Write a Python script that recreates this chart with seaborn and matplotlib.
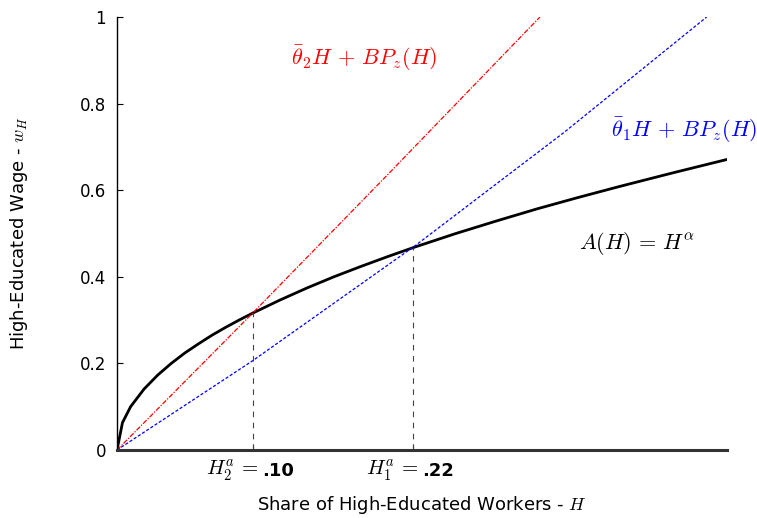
import numpy as np
import pandas as pd
import seaborn as sns
import matplotlib.pyplot as plt

# values
h_curve = [0.0, 0.004, 0.01, 0.02, 0.03, 0.04, 0.05, 0.06, 0.07, 0.08, 0.09, 0.10, 0.12,
           0.14, 0.16, 0.18, 0.20, 0.22, 0.25, 0.28, 0.31, 0.34, 0.37, 0.41, 0.45]
w_curve = [0.0, 0.063, 0.100, 0.141, 0.173, 0.200, 0.224, 0.245, 0.265, 0.283, 0.300,
           0.316, 0.346, 0.374, 0.400, 0.424, 0.447, 0.469, 0.500, 0.529, 0.557, 0.583,
           0.608, 0.640, 0.671]

h_red = [0.0, 0.10, 0.20, 0.312]
w_red = [0.0, 0.316, 0.637, 1.0]

h_blue = [0.0, 0.10, 0.22, 0.33, 0.435]
w_blue = [0.0, 0.206, 0.472, 0.734, 1.0]

cut_h = [0.10, 0.218]
cut_w = [0.316, 0.467]
cut_names = [r"$H_2^a\,=$", r"$H_1^a\,=$"]
cut_values = [".10", ".22"]

y_ticks = [0, 0.2, 0.4, 0.6, 0.8, 1.0]
y_labels = ["0", "0.2", "0.4", "0.6", "0.8", "1"]

sns.set_theme(style="ticks")
plt.rcParams["font.family"] = ["DejaVu Sans"]
plt.rcParams["mathtext.fontset"] = "cm"
plt.rcParams["text.color"] = "black"
plt.rcParams["axes.labelcolor"] = "black"

fig = plt.figure(figsize=(7.57, 5.18), dpi=100)
ax = fig.add_axes([0.1546, 0.1313, 0.8058, 0.8359])

sns.lineplot(x=h_curve, y=w_curve, ax=ax, color="black", linewidth=2.0, sort=False)
sns.lineplot(x=h_red, y=w_red, ax=ax, color="red", linewidth=0.9, sort=False,
             linestyle=(0, (4, 1.2, 1, 1.2)))
sns.lineplot(x=h_blue, y=w_blue, ax=ax, color="blue", linewidth=0.9, sort=False,
             linestyle=(0, (2.5, 1.5)))

for h, w in zip(cut_h, cut_w):
    ax.plot([h, h], [0, w], color="#444444", linewidth=0.8, linestyle=(0, (5, 5)))

ax.set_xlim(0, 0.45)
ax.set_ylim(0, 1)
ax.set_yticks(y_ticks)
ax.set_yticklabels(y_labels, fontsize=12, color="black")
ax.set_xticks(cut_h)
ax.set_xticklabels([])
ax.tick_params(axis="both", direction="in", length=4, width=0.8, colors="black")
ax.tick_params(axis="y", pad=8)

for h, name, val in zip(cut_h, cut_names, cut_values):
    ax.annotate(name, xy=(h, 0), xycoords=("data", "axes fraction"),
                xytext=(4, -15), textcoords="offset points", fontsize=15,
                ha="right", va="center", color="black")
    ax.annotate(val, xy=(h, 0), xycoords=("data", "axes fraction"),
                xytext=(7, -15), textcoords="offset points", fontsize=13,
                fontweight="bold", ha="left", va="center", color="black")

sns.despine(ax=ax)
ax.spines["left"].set_color("black")
ax.spines["left"].set_linewidth(1.0)
ax.spines["bottom"].set_color("#333333")
ax.spines["bottom"].set_linewidth(2.2)

ax.set_xlabel("Share of High-Educated Workers - $H$", fontsize=13, labelpad=28,
              color="black")
ax.set_ylabel("High-Educated Wage - $w_H$", fontsize=13, labelpad=36, color="black")

ax.text(0.182, 0.905, r"$\bar{\theta}_2 H \,+\, BP_z(H)$", color="red", fontsize=16,
        ha="center", va="center")
ax.text(0.418, 0.738, r"$\bar{\theta}_1 H \,+\, BP_z(H)$", color="blue", fontsize=16,
        ha="center", va="center")
ax.text(0.384, 0.476, r"$A(H) \,=\, H^\alpha$", color="black", fontsize=16,
        ha="center", va="center")

fig.savefig("out.png", dpi=100)
